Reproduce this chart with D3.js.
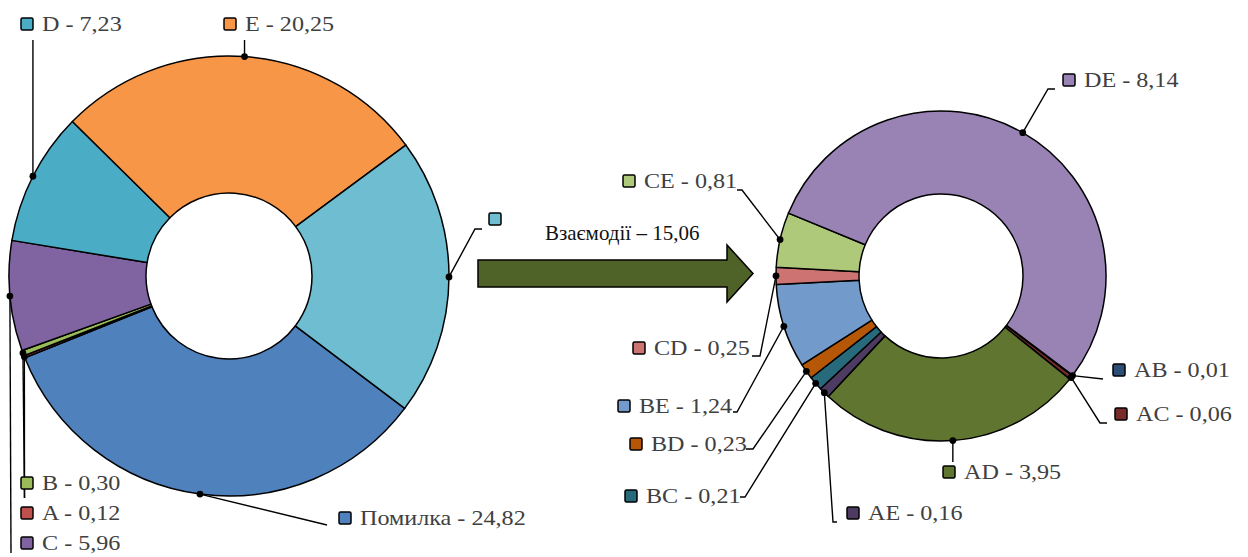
<!DOCTYPE html>
<html>
<head>
<meta charset="utf-8">
<script src="https://cdn.jsdelivr.net/npm/d3@7"></script>
<style>
  html, body { margin: 0; padding: 0; background: #fff; }
  svg { display: block; }
</style>
</head>
<body>
<svg id="chart" width="1248" height="557"></svg>
<script>
// Main components of variance
const mainNames  = ["Помилка", "A", "B", "C", "D", "E", "Взаємодії"];
const mainValues = [24.82, 0.12, 0.30, 5.96, 7.23, 20.25, 15.06];
const mainColors = ["#4f81bd", "#c0504d", "#9bbb59", "#8064a2", "#4bacc6", "#f79646", "#6fbdd1"];

// Breakdown of the interaction share
const interNames  = ["AB", "AC", "AD", "AE", "BC", "BD", "BE", "CD", "CE", "DE"];
const interValues = [0.01, 0.06, 3.95, 0.16, 0.21, 0.23, 1.24, 0.25, 0.81, 8.14];
const interColors = ["#2c4d75", "#772c2a", "#5f7530", "#4d3b62", "#276a7c", "#b65708", "#729aca", "#cd7371", "#afc97a", "#9983b5"];

const interTotalLabel = "Взаємодії – 15,06";
const FONT = '"Liberation Serif", serif';

// Label placement: key square top-left corner and leader path after the slice dot
const mainLabelLayout = {
  "Помилка":   { key: [339, 512], leader: [[327, 525]] },
  "A":         { key: [21, 507],  leader: [[24.5, 498]] },
  "B":         { key: [21, 477],  leader: [[24.5, 498]] },
  "C":         { key: [21, 537],  leader: [[11, 553]] },
  "D":         { key: [21, 18],   leader: [["dot", 40]] },
  "E":         { key: [224, 18],  leader: [["dot", 40]] },
  "Взаємодії": { key: [489, 213], leader: [[475, 229], [482, 229]], noText: true }
};
const interLabelLayout = {
  "AB": { key: [1113, 364], leader: [[1103, 379]] },
  "AC": { key: [1115, 408], leader: [[1100, 423], [1107, 423]] },
  "AD": { key: [943, 466],  leader: [["dot", 462]] },
  "AE": { key: [847, 507],  leader: [[833, 522], [837, 522]] },
  "BC": { key: [625, 490],  leader: [[745, 497], [740, 497]] },
  "BD": { key: [630, 438],  leader: [[753, 449], [746, 449]] },
  "BE": { key: [618, 400],  leader: [[737, 412], [733, 412]] },
  "CD": { key: [633, 342],  leader: [[760, 356], [752, 356]] },
  "CE": { key: [623, 175],  leader: [[742, 190], [737, 190]] },
  "DE": { key: [1063, 74],  leader: [[1048, 89], [1055, 89]] }
};

const svg = d3.select("#chart");
const fmt = v => d3.format(".2f")(v).replace(".", ",");
const startAngle = 127 * Math.PI / 180;

function drawDonut(names, values, colors, layout, cx, cy, rOuter, rInner) {
  const data = names.map((n, i) => ({ name: n, value: values[i], color: colors[i] }));
  const pie = d3.pie().value(d => d.value).sort(null)
    .startAngle(startAngle).endAngle(startAngle + 2 * Math.PI);
  const arcs = pie(data);
  const arc = d3.arc().innerRadius(rInner).outerRadius(rOuter);

  const g = svg.append("g").attr("transform", `translate(${cx},${cy})`);
  g.selectAll("path.slice").data(arcs).join("path")
    .attr("class", "slice")
    .attr("d", arc)
    .attr("fill", d => d.data.color)
    .attr("stroke", "#000")
    .attr("stroke-width", 1.5)
    .attr("stroke-linejoin", "round");

  const lg = svg.append("g");
  arcs.forEach(a => {
    const mid = (a.startAngle + a.endAngle) / 2;
    const dx = cx + rOuter * Math.sin(mid);
    const dy = cy - rOuter * Math.cos(mid);
    const L = layout[a.data.name];
    const pts = [[dx, dy]].concat(L.leader.map(p => [p[0] === "dot" ? dx : p[0], p[1]]));
    lg.append("path")
      .attr("d", d3.line()(pts))
      .attr("fill", "none")
      .attr("stroke", "#000")
      .attr("stroke-width", 1.4);
    lg.append("circle").attr("cx", dx).attr("cy", dy).attr("r", 3.4).attr("fill", "#000");

    const [kx, ky] = L.key;
    lg.append("rect")
      .attr("x", kx).attr("y", ky).attr("width", 12).attr("height", 12)
      .attr("rx", 1.5)
      .attr("fill", a.data.color)
      .attr("stroke", "#000").attr("stroke-width", 1.5);
    if (!L.noText) {
      lg.append("text")
        .attr("transform", `translate(${kx + 21},${ky + 13}) scale(1.15,1)`)
        .style("font-family", FONT)
        .style("font-size", "21px")
        .attr("fill", "#404040")
        .text(`${a.data.name} - ${fmt(a.data.value)}`);
    }
  });
}

drawDonut(mainNames, mainValues, mainColors, mainLabelLayout, 229, 276, 220, 83);
drawDonut(interNames, interValues, interColors, interLabelLayout, 941, 276, 165, 82);

// Arrow from the interaction slice to its breakdown
const arrowPts = [[478, 260], [727, 260], [727, 245], [753, 273.5], [727, 302], [727, 287], [478, 287]];
svg.append("path")
  .attr("d", d3.line()(arrowPts) + "Z")
  .attr("fill", "#4f6228")
  .attr("stroke", "#000")
  .attr("stroke-width", 1.5)
  .attr("stroke-linejoin", "miter");

svg.append("text")
  .attr("transform", "translate(545,240) scale(1.05,1)")
  .style("font-family", FONT)
  .style("font-size", "20px")
  .attr("fill", "#111")
  .text(interTotalLabel);
</script>
</body>
</html>
